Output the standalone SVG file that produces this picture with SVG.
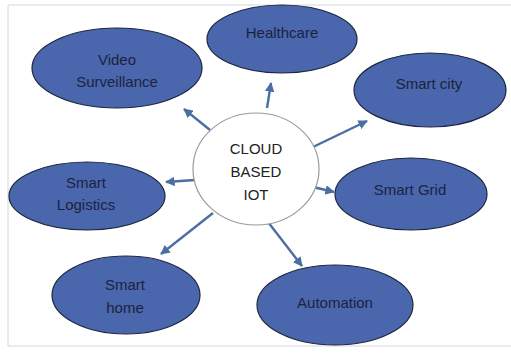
<svg xmlns="http://www.w3.org/2000/svg" width="511" height="356" viewBox="0 0 511 356">
  <style>
    .app { fill: #4a66ac; stroke: #1e2640; stroke-width: 1.2; }
    .hub { fill: #ffffff; stroke: #9a9a9a; stroke-width: 1.2; }
    .lbl { font-family: "Liberation Sans", Arial, sans-serif; font-size: 15px; fill: #1c2340; text-anchor: middle; }
    .hublbl { font-family: "Liberation Sans", Arial, sans-serif; font-size: 15px; fill: #222222; text-anchor: middle; }
    .conn { stroke: #4b6fa3; stroke-width: 2.4; fill: none; marker-end: url(#arrow); }
  </style>
  <defs>
    <marker id="arrow" viewBox="0 0 10 10" refX="9" refY="5" markerWidth="4" markerHeight="4" orient="auto" markerUnits="strokeWidth">
      <path d="M0,0 L10,5 L0,10 Z" fill="#4b6fa3"/>
    </marker>
  </defs>

  <rect width="511" height="356" fill="#ffffff"/>
  <!-- outer frame -->
  <path d="M8,5 H511 M8,5 V346 H511" fill="none" stroke="#d6d6d6" stroke-width="1"/>

  <g id="connectors">
    <line class="conn" x1="210" y1="130" x2="184" y2="109"/>
    <line class="conn" x1="267" y1="108" x2="271" y2="83"/>
    <line class="conn" x1="313" y1="147" x2="367" y2="121"/>
    <line class="conn" x1="195" y1="180" x2="166" y2="182"/>
    <line class="conn" x1="313" y1="187" x2="334" y2="192"/>
    <line class="conn" x1="213" y1="213" x2="161" y2="254"/>
    <line class="conn" x1="268" y1="222" x2="302" y2="266"/>
  </g>

  <g id="hub">
    <ellipse class="hub" cx="256" cy="169" rx="63" ry="56"/>
    <text class="hublbl" x="256" y="154">CLOUD</text>
    <text class="hublbl" x="256" y="177">BASED</text>
    <text class="hublbl" x="256" y="200">IOT</text>
  </g>

  <g id="healthcare">
    <ellipse class="app" cx="282" cy="39" rx="75" ry="34"/>
    <text class="lbl" x="282" y="38">Healthcare</text>
  </g>

  <g id="video-surveillance">
    <ellipse class="app" cx="117" cy="68" rx="85" ry="40"/>
    <text class="lbl" x="117" y="65">Video</text>
    <text class="lbl" x="117" y="87">Surveillance</text>
  </g>

  <g id="smart-city">
    <ellipse class="app" cx="430" cy="90" rx="76" ry="37"/>
    <text class="lbl" x="429" y="89">Smart city</text>
  </g>

  <g id="smart-logistics">
    <ellipse class="app" cx="87" cy="196" rx="78" ry="34"/>
    <text class="lbl" x="86" y="188">Smart</text>
    <text class="lbl" x="86" y="210">Logistics</text>
  </g>

  <g id="smart-grid">
    <ellipse class="app" cx="411" cy="194" rx="76" ry="36"/>
    <text class="lbl" x="410" y="195">Smart Grid</text>
  </g>

  <g id="smart-home">
    <ellipse class="app" cx="126" cy="295" rx="74" ry="39"/>
    <text class="lbl" x="125" y="290">Smart</text>
    <text class="lbl" x="125" y="313">home</text>
  </g>

  <g id="automation">
    <ellipse class="app" cx="335" cy="305" rx="78" ry="40"/>
    <text class="lbl" x="335" y="308">Automation</text>
  </g>
</svg>
